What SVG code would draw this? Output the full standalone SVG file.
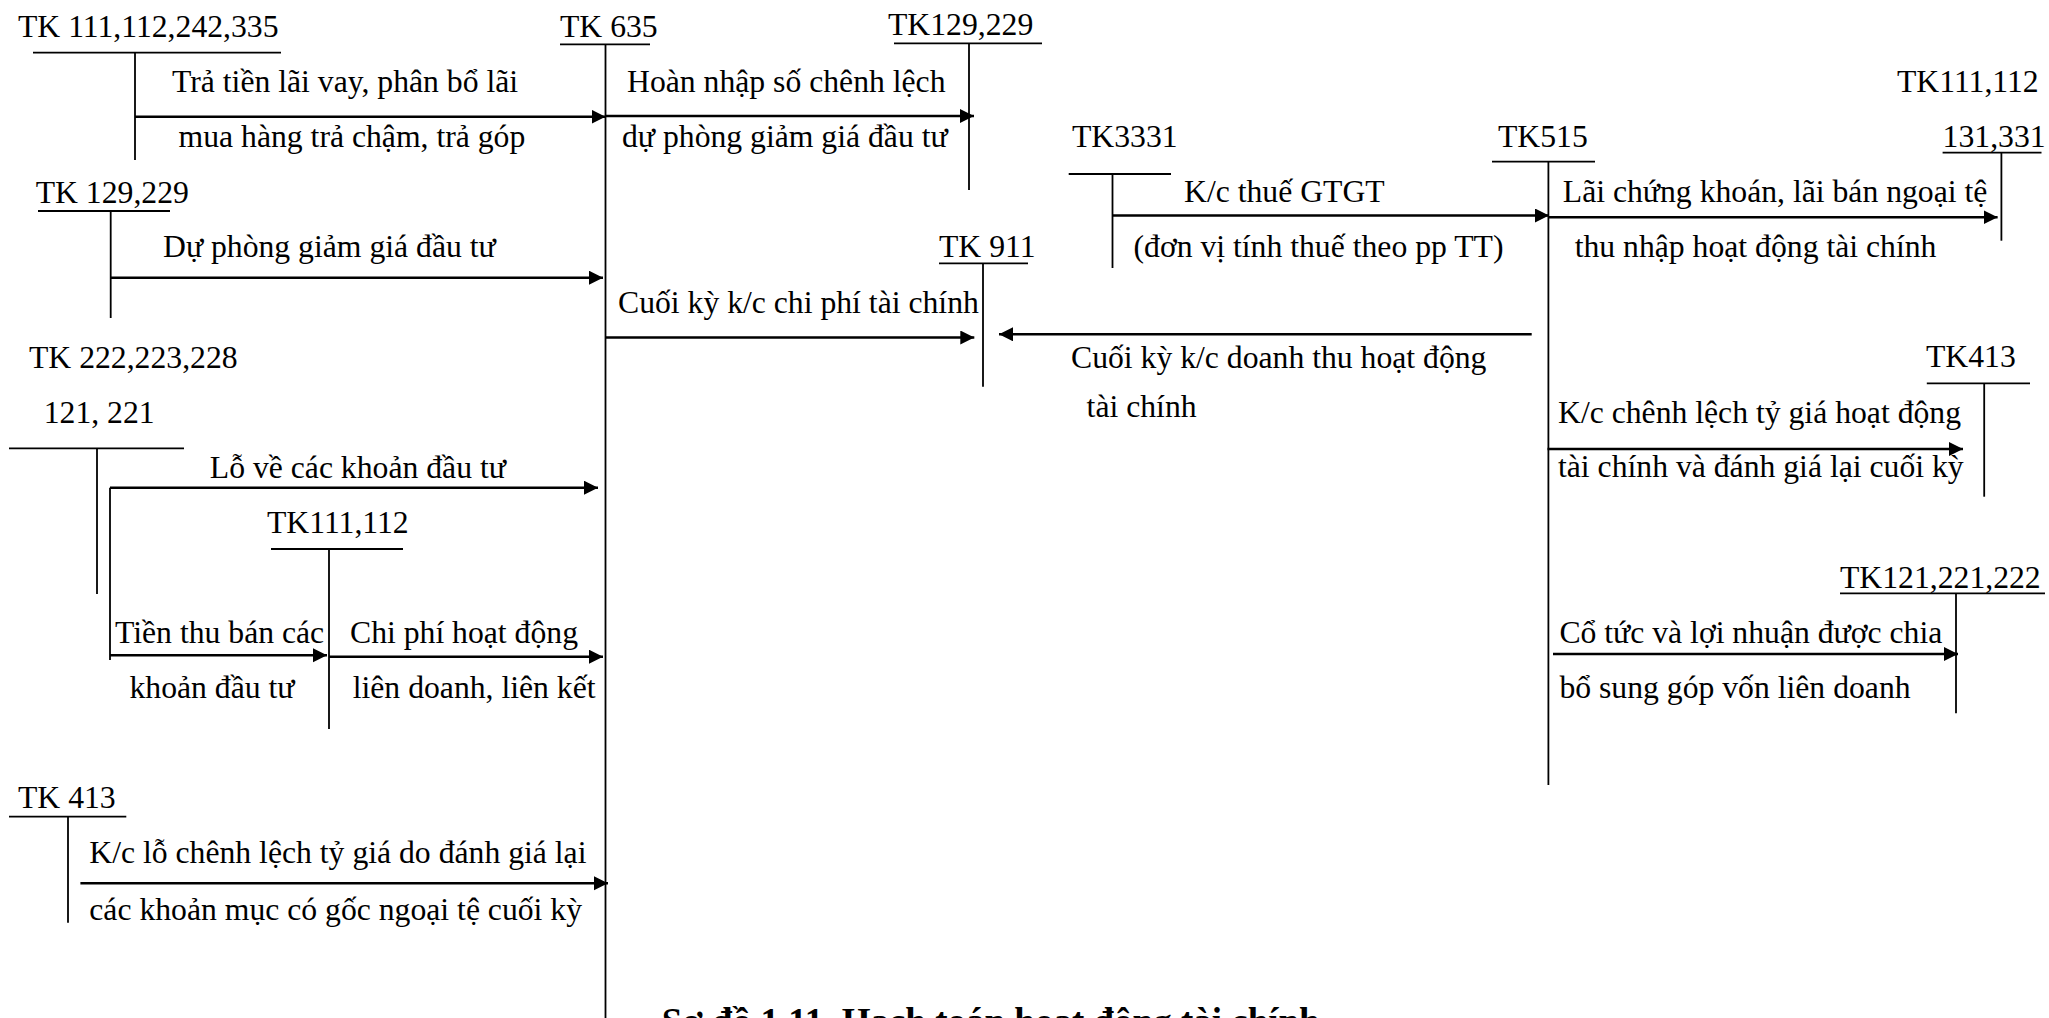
<svg xmlns="http://www.w3.org/2000/svg" width="2049" height="1018" viewBox="0 0 2049 1018">
<defs>
<style>
text{font-family:"Liberation Serif","Times New Roman",serif;font-size:31.7px;fill:#000}
.title{font-size:37px;font-weight:bold}
.t{stroke:#000;stroke-width:1.8;fill:none}
.a{stroke:#000;stroke-width:2.6;fill:none;marker-end:url(#ah)}
</style>
<marker id="ah" markerUnits="userSpaceOnUse" markerWidth="15" markerHeight="15" refX="14" refY="7" orient="auto">
<path d="M0,0 L14,7 L0,14 z" fill="#000"/>
</marker>
</defs>
<rect width="2049" height="1018" fill="#fff"/>

<g id="tk111-112-242-335">
<text x="18" y="37">TK 111,112,242,335</text>
<line class="t" x1="33" y1="52.7" x2="281" y2="52.7"/>
<line class="t" x1="135" y1="52.7" x2="135" y2="160"/>
</g>
<g id="tk635">
<text x="560" y="37">TK 635</text>
<line class="t" x1="560" y1="44.3" x2="650" y2="44.3"/>
<line class="t" x1="605.5" y1="44.3" x2="605.5" y2="1018"/>
</g>
<g id="tk129-229-right">
<text x="888" y="35">TK129,229</text>
<line class="t" x1="894" y1="43.3" x2="1042" y2="43.3"/>
<line class="t" x1="969" y1="43.3" x2="969" y2="190"/>
</g>
<g id="tk129-229-left">
<text x="35.7" y="202.7">TK 129,229</text>
<line class="t" x1="38" y1="211" x2="170" y2="211"/>
<line class="t" x1="110.7" y1="211" x2="110.7" y2="318"/>
</g>
<g id="tk222-223-228">
<text x="29" y="368.3">TK 222,223,228</text>
<text x="43.7" y="423.3">121, 221</text>
<line class="t" x1="9" y1="448.3" x2="184" y2="448.3"/>
<line class="t" x1="97" y1="448.3" x2="97" y2="594"/>
</g>
<g id="tk111-112-mid">
<text x="267" y="533.3">TK111,112</text>
<line class="t" x1="271" y1="549" x2="403" y2="549"/>
<line class="t" x1="329" y1="549" x2="329" y2="729"/>
</g>
<g id="tk413-left">
<text x="18" y="808.3">TK 413</text>
<line class="t" x1="9" y1="816.7" x2="126.3" y2="816.7"/>
<line class="t" x1="68" y1="816.7" x2="68" y2="922.7"/>
</g>
<g id="tk911">
<text x="939" y="256.7">TK 911</text>
<line class="t" x1="939" y1="263.3" x2="1028" y2="263.3"/>
<line class="t" x1="983" y1="263.3" x2="983" y2="386.7"/>
</g>
<g id="tk3331">
<text x="1072" y="146.7">TK3331</text>
<line class="t" x1="1068.7" y1="174" x2="1171" y2="174"/>
<line class="t" x1="1112.5" y1="174" x2="1112.5" y2="268"/>
</g>
<g id="tk515">
<text x="1498" y="146.7">TK515</text>
<line class="t" x1="1492" y1="161.7" x2="1595" y2="161.7"/>
<line class="t" x1="1548.4" y1="161.7" x2="1548.4" y2="785"/>
</g>
<g id="tk111-112-131-331">
<text x="1897" y="91.7">TK111,112</text>
<text x="1942.6" y="146.7">131,331</text>
<line class="t" x1="1942.6" y1="152.7" x2="2041.5" y2="152.7"/>
<line class="t" x1="2001.4" y1="152.7" x2="2001.4" y2="240.7"/>
</g>
<g id="tk413-right">
<text x="1926" y="366.7">TK413</text>
<line class="t" x1="1926.8" y1="383.3" x2="2030" y2="383.3"/>
<line class="t" x1="1984.2" y1="383.3" x2="1984.2" y2="496.7"/>
</g>
<g id="tk121-221-222">
<text x="1840" y="588.3">TK121,221,222</text>
<line class="t" x1="1840" y1="593.3" x2="2045" y2="593.3"/>
<line class="t" x1="1956" y1="593.3" x2="1956" y2="713.3"/>
</g>

<g id="connectors">
<line class="a" x1="135" y1="116.7" x2="605.5" y2="116.7"/>
<line class="a" x1="605.5" y1="116" x2="974" y2="116"/>
<line class="a" x1="110.7" y1="277.7" x2="603" y2="277.7"/>
<line class="a" x1="605.5" y1="337.5" x2="974.3" y2="337.5"/>
<line class="a" x1="1531.7" y1="334.3" x2="999" y2="334.3"/>
<line class="a" x1="1112.5" y1="215.5" x2="1549" y2="215.5"/>
<line class="a" x1="1548.4" y1="217.3" x2="1997.6" y2="217.3"/>
<line class="a" x1="1547.5" y1="449" x2="1963" y2="449"/>
<line class="a" x1="1553" y1="654" x2="1958" y2="654"/>
<line class="t" x1="110" y1="487.7" x2="110" y2="660"/>
<line class="a" x1="110" y1="487.7" x2="598" y2="487.7"/>
<line class="a" x1="110" y1="655.3" x2="327" y2="655.3"/>
<line class="a" x1="329" y1="656.7" x2="603" y2="656.7"/>
<line class="a" x1="80.4" y1="883.3" x2="608" y2="883.3"/>
</g>

<g id="labels">
<text x="172" y="91.7">Trả tiền lãi vay, phân bổ lãi</text>
<text x="178.6" y="146.7">mua hàng trả chậm, trả góp</text>
<text x="627" y="91.7">Hoàn nhập số chênh lệch</text>
<text x="622" y="146.7">dự phòng giảm giá đầu tư</text>
<text x="163" y="257">Dự phòng giảm giá đầu tư</text>
<text x="618" y="313.3">Cuối kỳ k/c chi phí tài chính</text>
<text x="1071" y="368.3">Cuối kỳ k/c doanh thu hoạt động</text>
<text x="1086.6" y="416.7">tài chính</text>
<text x="1184" y="201.7">K/c thuế GTGT</text>
<text x="1133.5" y="256.7">(đơn vị tính thuế theo pp TT)</text>
<text x="1562.8" y="201.7">Lãi chứng khoán, lãi bán ngoại tệ</text>
<text x="1574.7" y="256.7">thu nhập hoạt động tài chính</text>
<text x="1558" y="423.3">K/c chênh lệch tỷ giá hoạt động</text>
<text x="1558" y="477.3">tài chính và đánh giá lại cuối kỳ</text>
<text x="1559.4" y="643.3">Cổ tức và lợi nhuận được chia</text>
<text x="1559.4" y="698.3">bổ sung góp vốn liên doanh</text>
<text x="209.8" y="478.3">Lỗ về các khoản đầu tư</text>
<text x="115" y="643.3">Tiền thu bán các</text>
<text x="129.5" y="698.3">khoản đầu tư</text>
<text x="350" y="643.3">Chi phí hoạt động</text>
<text x="352.7" y="698.3">liên doanh, liên kết</text>
<text x="89.3" y="863.3">K/c lỗ chênh lệch tỷ giá do đánh giá lại</text>
<text x="89.3" y="920">các khoản mục có gốc ngoại tệ cuối kỳ</text>
<text class="title" x="661.8" y="1034">Sơ đồ 1.11. Hạch toán hoạt động tài chính</text>
</g>
</svg>
